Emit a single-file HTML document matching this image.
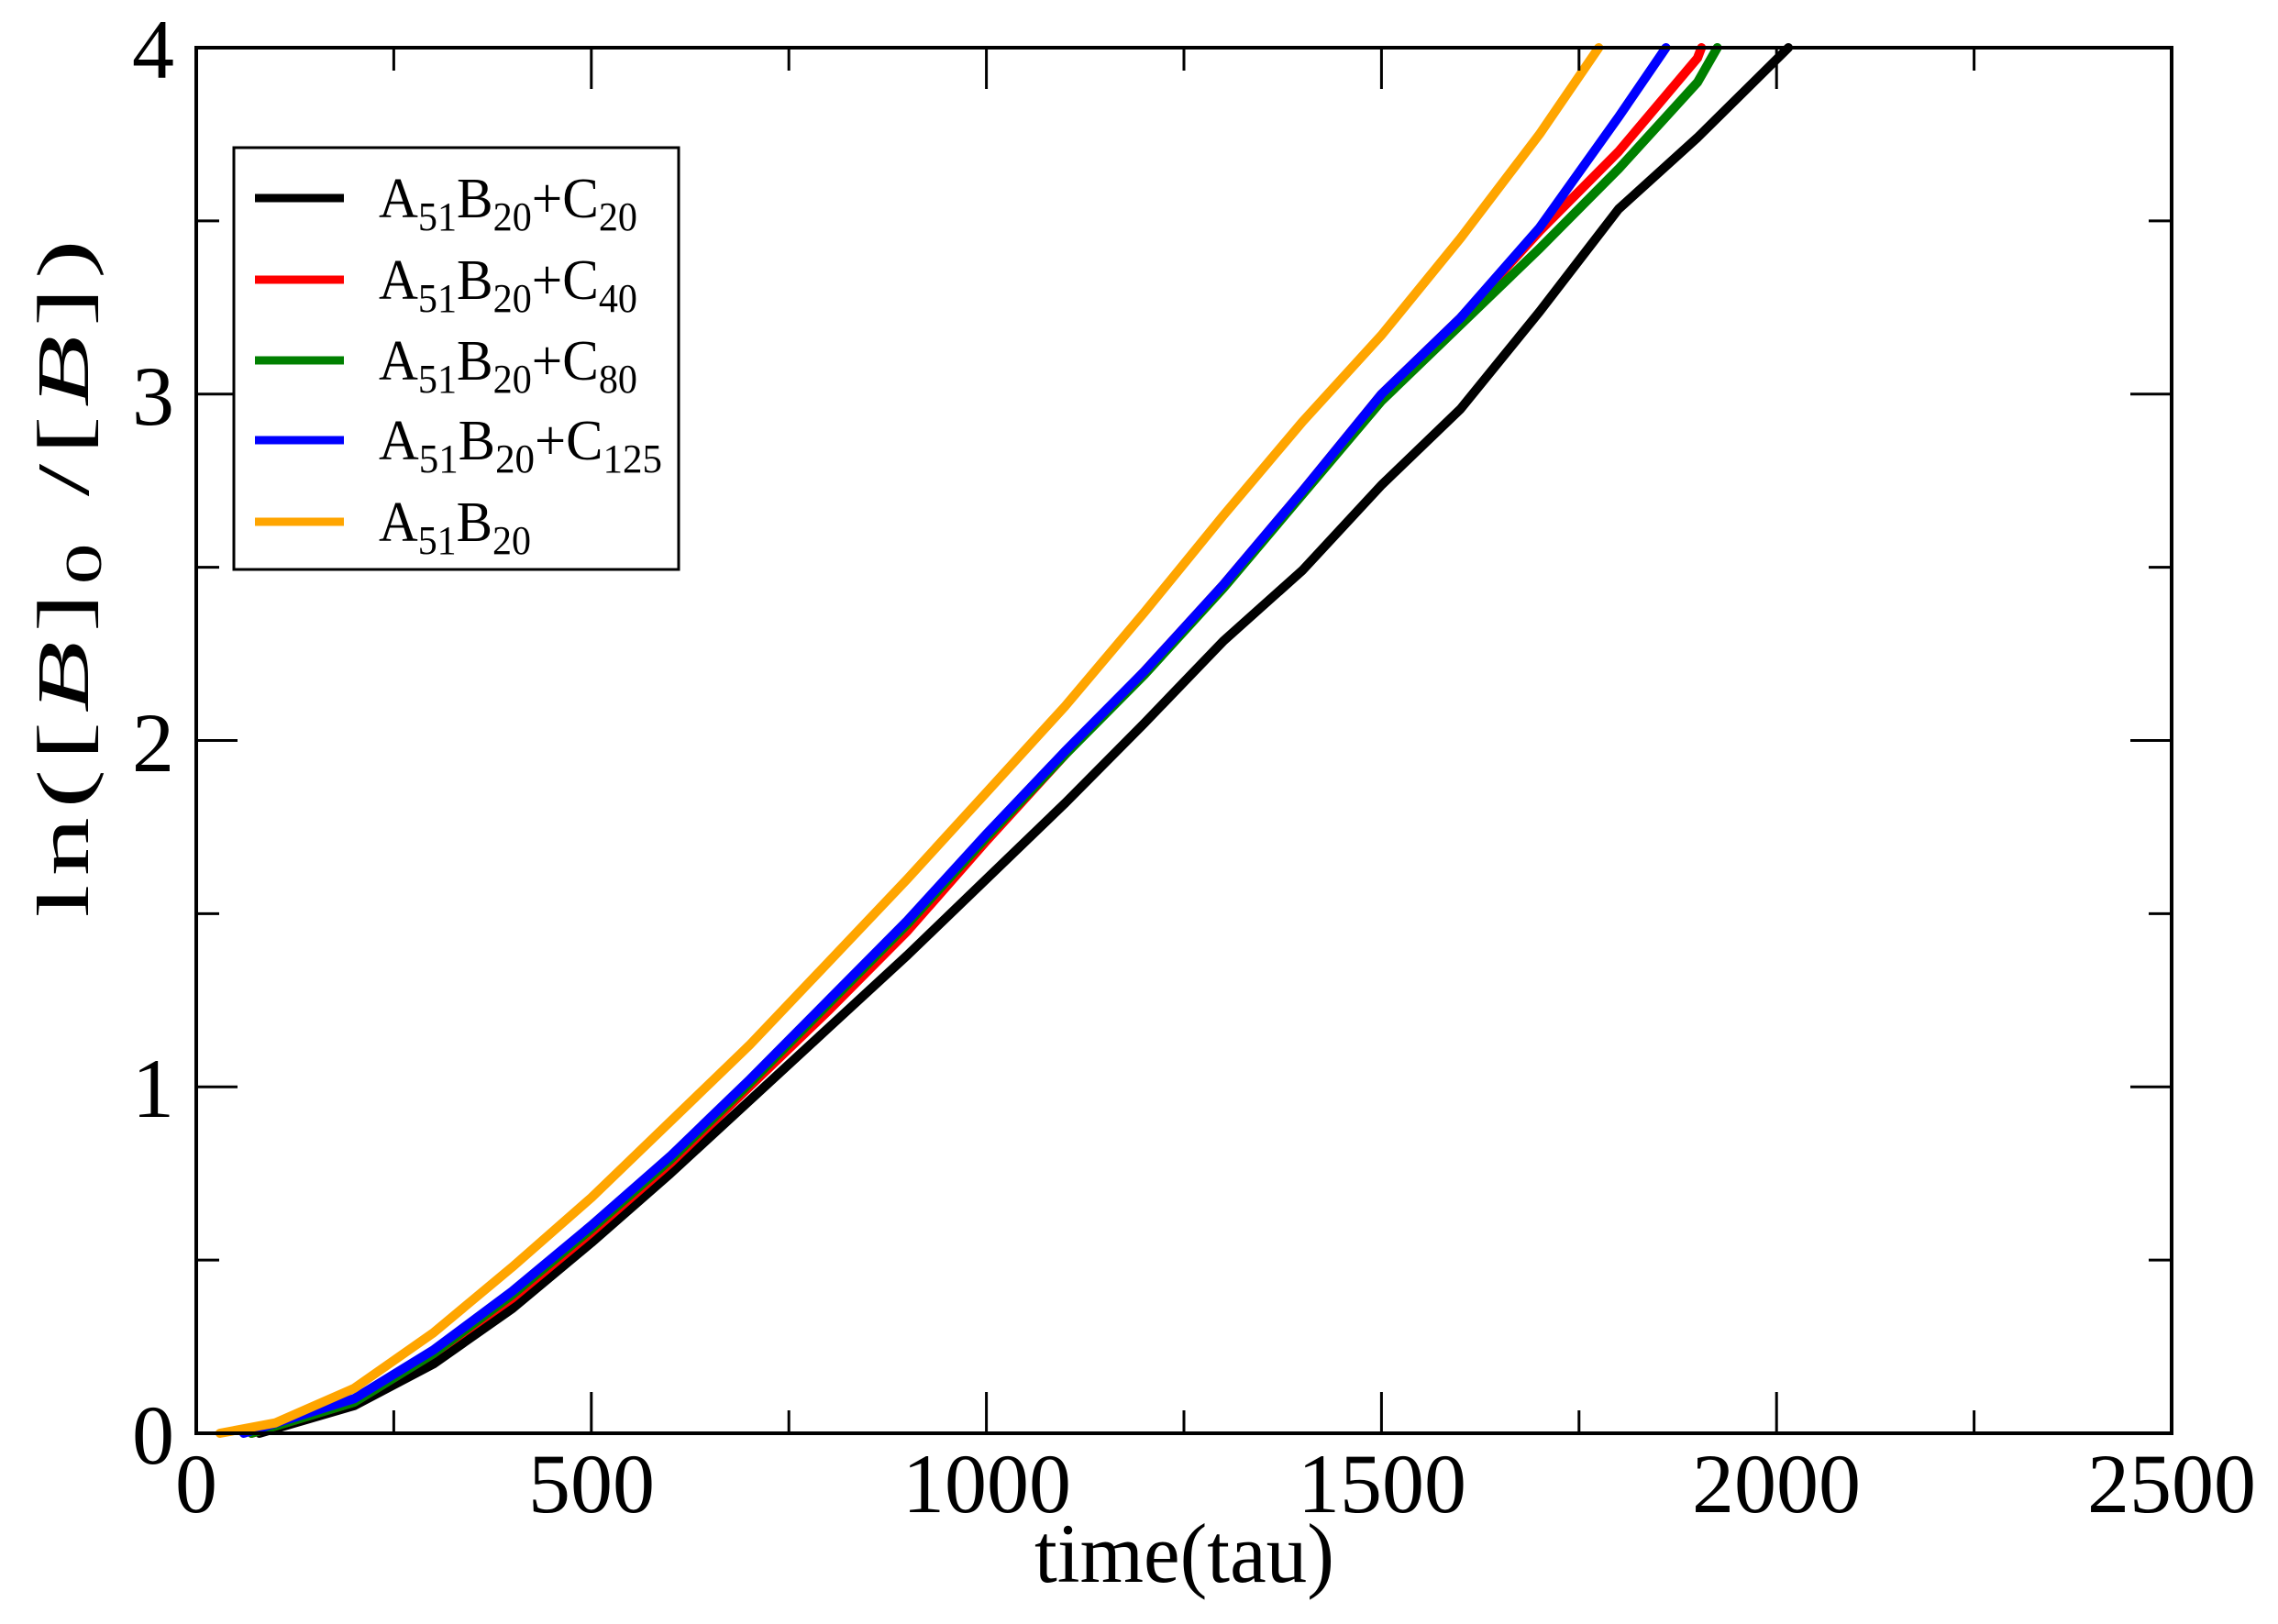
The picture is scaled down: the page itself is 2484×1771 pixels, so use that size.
<!DOCTYPE html>
<html><head><meta charset="utf-8"><style>
html,body{margin:0;padding:0;background:#fff;}
svg{display:block;font-family:"Liberation Serif",serif;}
</style></head><body>
<svg width="2484" height="1771" viewBox="0 0 2484 1771" xmlns="http://www.w3.org/2000/svg">
<rect width="2484" height="1771" fill="#fff"/>
<g fill="none" stroke-width="10" stroke-linejoin="round" stroke-linecap="round">
<path stroke="#000" d="M282.9,1563L386.3,1532.8L472.5,1487.5L558.6,1427L644.8,1355.2L731,1279.7L817.1,1200.4L903.3,1121L989.4,1041.7L1075.6,958.6L1161.8,875.5L1247.9,788.6L1334.1,699L1420.2,622L1506.4,529L1592.6,446L1678.7,340L1764.9,228L1851,150L1950.1,52"/>
<path stroke="#ff0000" d="M274.3,1563L386.3,1529L472.5,1476.1L558.6,1415.7L644.8,1343.9L731,1268.4L817.1,1185.3L903.3,1102.1L989.4,1015.3L1075.6,917.1L1161.8,822.6L1247.9,732L1334.1,637.5L1420.2,535.5L1506.4,429.8L1592.6,346.6L1678.7,252.2L1764.9,165.3L1851,63.3L1855.3,52"/>
<path stroke="#008000" d="M274.3,1563L386.3,1529L472.5,1476.1L558.6,1411.9L644.8,1340.1L731,1264.6L817.1,1181.5L903.3,1094.6L989.4,1007.7L1075.6,913.3L1161.8,822.6L1247.9,735.7L1334.1,641.3L1420.2,539.3L1506.4,437.3L1592.6,354.2L1678.7,271.1L1764.9,184.2L1851,89.8L1872.6,52"/>
<path stroke="#0000ff" d="M265.7,1563L386.3,1525.2L472.5,1472.3L558.6,1408.1L644.8,1336.4L731,1260.8L817.1,1177.7L903.3,1090.8L989.4,1003.9L1075.6,909.5L1161.8,818.8L1247.9,732L1334.1,637.5L1420.2,535.5L1506.4,429.8L1592.6,346.6L1678.7,248.4L1764.9,127.6L1816.6,52"/>
<path stroke="#ffa500" d="M239.8,1563L300.2,1551.7L386.3,1513.9L472.5,1453.5L558.6,1381.7L644.8,1306.1L731,1223L817.1,1139.9L903.3,1049.3L989.4,958.6L1075.6,864.2L1161.8,769.7L1247.9,667.7L1334.1,562L1420.2,460L1506.4,365.5L1592.6,259.7L1678.7,146.4L1743.3,52"/>
</g>
<rect x="214" y="52" width="2154" height="1511" fill="none" stroke="#000" stroke-width="4"/>
<g stroke="#000" stroke-width="3">
<path d="M429.4,1563v-25M644.8,1563v-45M860.2,1563v-25M1075.6,1563v-45M1291,1563v-25M1506.4,1563v-45M1721.8,1563v-25M1937.2,1563v-45M2152.6,1563v-25"/>
<path d="M429.4,52v25M644.8,52v45M860.2,52v25M1075.6,52v45M1291,52v25M1506.4,52v45M1721.8,52v25M1937.2,52v45M2152.6,52v25"/>
<path d="M214,1374.1h25M214,1185.3h45M214,996.4h25M214,807.5h45M214,618.6h25M214,429.8h45M214,240.9h25"/>
<path d="M2368,1374.1h-25M2368,1185.3h-45M2368,996.4h-25M2368,807.5h-45M2368,618.6h-25M2368,429.8h-45M2368,240.9h-25"/>
</g>
<g font-size="92" fill="#000">
<text x="190" y="1596" text-anchor="end">0</text>
<text x="190" y="1218" text-anchor="end">1</text>
<text x="190" y="841" text-anchor="end">2</text>
<text x="190" y="463" text-anchor="end">3</text>
<text x="190" y="85" text-anchor="end">4</text>
<text x="214" y="1649" text-anchor="middle">0</text>
<text x="645" y="1649" text-anchor="middle">500</text>
<text x="1076" y="1649" text-anchor="middle">1000</text>
<text x="1507" y="1649" text-anchor="middle">1500</text>
<text x="1937" y="1649" text-anchor="middle">2000</text>
<text x="2368" y="1649" text-anchor="middle">2500</text>
</g>
<text x="1128" y="1725" font-size="92" textLength="327" lengthAdjust="spacingAndGlyphs">time(tau)</text>
<text transform="translate(96,626) rotate(-90) scale(1.6,1)" font-size="80" letter-spacing="6" text-anchor="middle">ln([<tspan font-style="italic">B</tspan>]<tspan font-size="56" dy="14">0</tspan><tspan dy="-14"> /[</tspan><tspan font-style="italic">B</tspan>])</text>
<rect x="255" y="161" width="485" height="460" fill="#fff" stroke="#000" stroke-width="3"/>
<g stroke-width="9">
<line x1="278" y1="216" x2="375" y2="216" stroke="#000"/>
<line x1="278" y1="305" x2="375" y2="305" stroke="#ff0000"/>
<line x1="278" y1="393" x2="375" y2="393" stroke="#008000"/>
<line x1="278" y1="480" x2="375" y2="480" stroke="#0000ff"/>
<line x1="278" y1="569" x2="375" y2="569" stroke="#ffa500"/>
</g>
<g font-size="62" fill="#000">
<text x="413" y="237" textLength="282" lengthAdjust="spacingAndGlyphs">A<tspan font-size="44" dy="14">51</tspan><tspan dy="-14">B</tspan><tspan font-size="44" dy="14">20</tspan><tspan dy="-14">+C</tspan><tspan font-size="44" dy="14">20</tspan></text>
<text x="413" y="326" textLength="282" lengthAdjust="spacingAndGlyphs">A<tspan font-size="44" dy="14">51</tspan><tspan dy="-14">B</tspan><tspan font-size="44" dy="14">20</tspan><tspan dy="-14">+C</tspan><tspan font-size="44" dy="14">40</tspan></text>
<text x="413" y="414" textLength="282" lengthAdjust="spacingAndGlyphs">A<tspan font-size="44" dy="14">51</tspan><tspan dy="-14">B</tspan><tspan font-size="44" dy="14">20</tspan><tspan dy="-14">+C</tspan><tspan font-size="44" dy="14">80</tspan></text>
<text x="413" y="501" textLength="309" lengthAdjust="spacingAndGlyphs">A<tspan font-size="44" dy="14">51</tspan><tspan dy="-14">B</tspan><tspan font-size="44" dy="14">20</tspan><tspan dy="-14">+C</tspan><tspan font-size="44" dy="14">125</tspan></text>
<text x="413" y="590" textLength="166" lengthAdjust="spacingAndGlyphs">A<tspan font-size="44" dy="14">51</tspan><tspan dy="-14">B</tspan><tspan font-size="44" dy="14">20</tspan></text>
</g>
</svg>
</body></html>
